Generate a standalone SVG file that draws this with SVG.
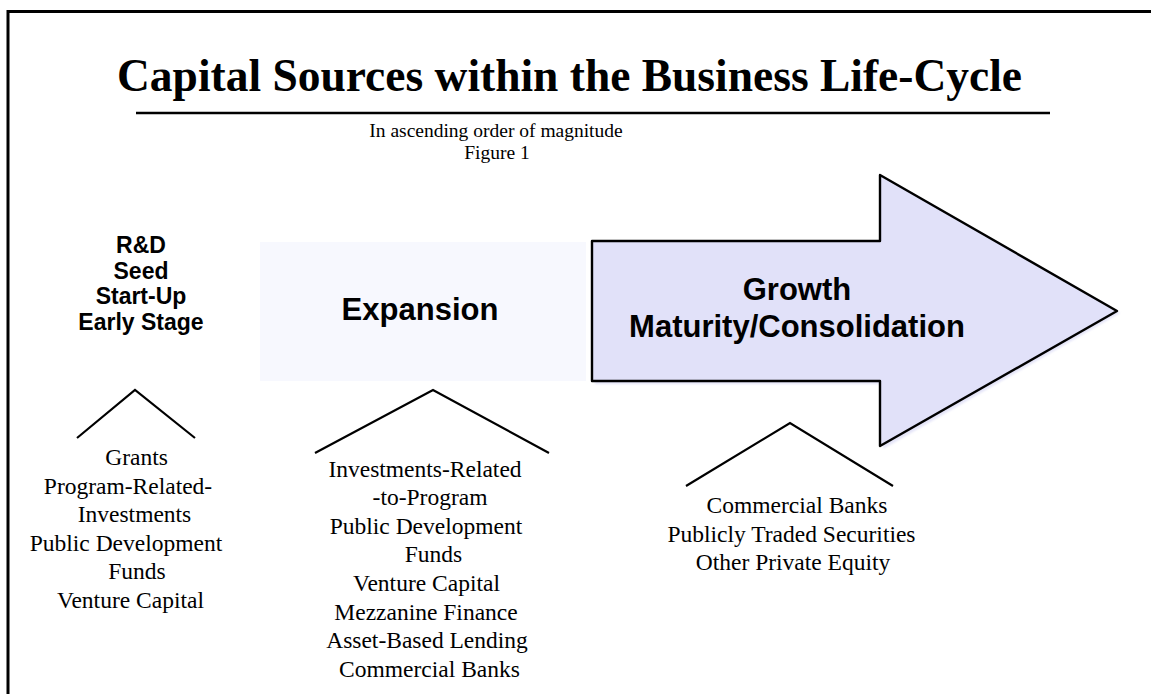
<svg xmlns="http://www.w3.org/2000/svg" width="1151" height="694" viewBox="0 0 1151 694">
  <style>
    .serif { font-family: "Liberation Serif", "Times New Roman", serif; fill: #000; }
    .sans { font-family: "Liberation Sans", Arial, sans-serif; font-weight: bold; fill: #000; }
    .src { font-size: 23.5px; text-anchor: middle; }
    .note { font-size: 19.5px; text-anchor: middle; }
    .stage { font-size: 23px; text-anchor: middle; }
    .big { font-size: 31px; text-anchor: middle; }
    .branch { fill: none; stroke: #000; stroke-width: 2.2; stroke-linejoin: miter; }
  </style>
  <defs>
    <filter id="soft" x="-5%" y="-5%" width="110%" height="110%">
      <feGaussianBlur stdDeviation="1.2"/>
    </filter>
  </defs>

  <rect width="1151" height="694" fill="#fff"/>

  <!-- page frame (open to the right and bottom) -->
  <path d="M8,694 V11.5 H1151" fill="none" stroke="#000" stroke-width="3"/>

  <g id="title">
    <text class="serif" x="117" y="91" font-size="46" font-weight="bold" textLength="905" lengthAdjust="spacingAndGlyphs">Capital Sources within the Business Life-Cycle</text>
    <line x1="136" y1="113" x2="1050" y2="113" stroke="#000" stroke-width="2.6"/>
  </g>

  <g id="subtitle">
    <text class="serif note" x="496" y="137">In ascending order of magnitude</text>
    <text class="serif note" x="497" y="159">Figure 1</text>
  </g>

  <!-- stage: early -->
  <g id="stage-early">
    <text class="sans stage" x="141" y="253">R&amp;D</text>
    <text class="sans stage" x="141" y="279">Seed</text>
    <text class="sans stage" x="141" y="304">Start-Up</text>
    <text class="sans stage" x="141" y="330">Early Stage</text>
  </g>

  <!-- stage: expansion -->
  <g id="stage-expansion">
    <rect x="260" y="242" width="326" height="139" fill="#F7F8FE"/>
    <text class="sans big" x="420" y="320">Expansion</text>
  </g>

  <!-- stage: growth arrow -->
  <g id="stage-growth">
    <polygon points="595,244 883,244 883,178 1120,313 883,449 883,384 595,384" fill="#E4E4F8" filter="url(#soft)"/>
    <polygon points="592,241 880,241 880,175 1117,311 880,446 880,381 592,381" fill="#E1E1F9" stroke="#000" stroke-width="2.4" stroke-linejoin="round"/>
    <text class="sans big" x="797" y="300">Growth</text>
    <text class="sans big" x="797" y="337">Maturity/Consolidation</text>
  </g>

  <!-- branch connectors from each stage to its sources -->
  <g id="connectors">
    <polyline class="branch" points="77,438 135,390 195,438"/>
    <polyline class="branch" points="315,453 433,390 549,453"/>
    <polyline class="branch" points="686,486 790,423 893,486"/>
  </g>

  <g id="sources-early">
    <text class="serif src" x="136.5" y="465">Grants</text>
    <text class="serif src" x="128" y="494">Program-Related-</text>
    <text class="serif src" x="134.5" y="522">Investments</text>
    <text class="serif src" x="126" y="551">Public Development</text>
    <text class="serif src" x="137" y="579">Funds</text>
    <text class="serif src" x="130.5" y="608">Venture Capital</text>
  </g>

  <g id="sources-expansion">
    <text class="serif src" x="425" y="477">Investments-Related</text>
    <text class="serif src" x="430" y="505">-to-Program</text>
    <text class="serif src" x="426" y="534">Public Development</text>
    <text class="serif src" x="433.5" y="562">Funds</text>
    <text class="serif src" x="426.5" y="591">Venture Capital</text>
    <text class="serif src" x="426" y="620">Mezzanine Finance</text>
    <text class="serif src" x="427" y="648">Asset-Based Lending</text>
    <text class="serif src" x="429.5" y="677">Commercial Banks</text>
  </g>

  <g id="sources-growth">
    <text class="serif src" x="797" y="513">Commercial Banks</text>
    <text class="serif src" x="791.5" y="542">Publicly Traded Securities</text>
    <text class="serif src" x="793" y="570">Other Private Equity</text>
  </g>
</svg>
